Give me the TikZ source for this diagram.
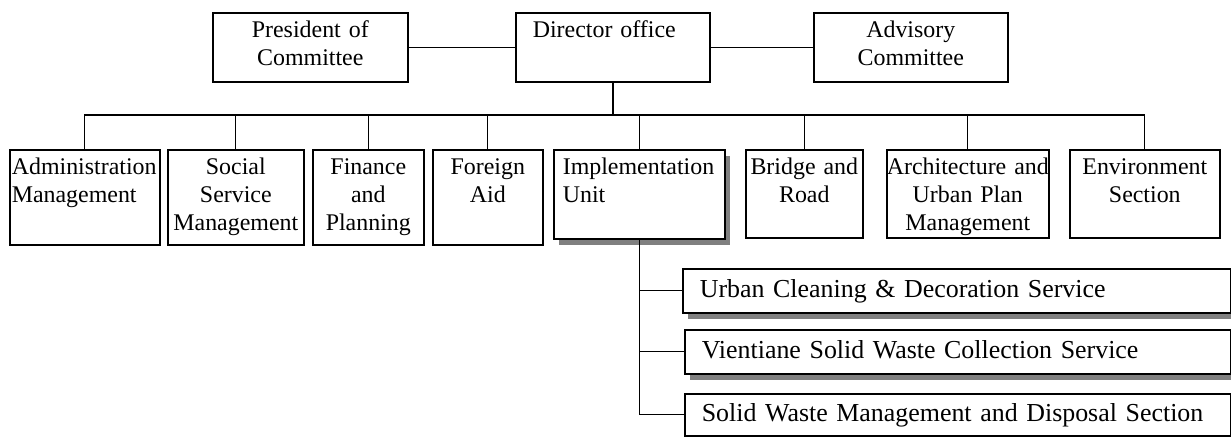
\documentclass[tikz,border=0pt]{standalone}
\usepackage{fontspec}
\setmainfont{Liberation Serif}
\usepackage{tikz}
\usetikzlibrary{shadows}

\begin{document}
\begin{tikzpicture}[
  x=0.5bp,y=-0.5bp,
  box/.style={draw=black, line width=0.8bp, anchor=north west, align=center, inner xsep=1bp, inner ysep=0pt, text height=12.5bp, font=\fontsize{12}{14}\selectfont},
  shaded/.style={drop shadow={shadow xshift=2.5bp, shadow yshift=-3bp, fill=black!50, opacity=1}, fill=white},
  service/.style={box, shaded, align=left, inner xsep=8.5bp, text height=9.5bp, text depth=2.5bp, font=\fontsize{13}{15}\selectfont},
  link/.style={line width=0.65bp, draw=black},
  trunk/.style={line width=1.3bp, draw=black}
]
\useasboundingbox (0,0) rectangle (1231,437);
\node[box, text width=95.5bp, text depth=22bp] (pres) at (212,12) {President of\\Committee};
\node[box, align=left, inner xsep=8.5bp, text width=80bp, text depth=22bp] (dir) at (515,12) {Director office};
\node[box, text width=95bp, text depth=22bp] (adv) at (813,12) {Advisory\\Committee};
\node[box, align=left, text width=73bp, text depth=35bp] (admin) at (9,149) {Administration\\Management};
\node[box, text width=66bp, text depth=35bp] (social) at (167,149) {Social\\Service\\Management};
\node[box, text width=53.5bp, text depth=35bp] (finance) at (312,149) {Finance\\and\\Planning};
\node[box, text width=53bp, text depth=35bp] (foreign) at (432,149) {Foreign\\Aid};
\node[box, shaded, align=left, inner xsep=4.5bp, text width=76.5bp, text depth=32bp] (impl) at (553,149) {Implementation\\Unit};
\node[box, text width=56.5bp, text depth=31.5bp] (bridge) at (745,149) {Bridge and\\Road};
\node[box, inner xsep=0pt, text width=81bp, text depth=31.5bp] (arch) at (886,149) {Architecture and\\Urban Plan\\Management};
\node[box, text width=73bp, text depth=31.5bp] (env) at (1069,149) {Environment\\Section};
\node[service, text width=257bp, minimum height=22bp] (urban) at (682,268) {Urban Cleaning \& Decoration Service};
\node[service, text width=256bp, minimum height=22bp] (collect) at (684,329) {Vientiane Solid Waste Collection Service};
\node[service, text width=256bp, minimum height=21bp] (disposal) at (684,393) {Solid Waste Management and Disposal Section};
\coordinate (bus) at (612,115);
\draw[link] (pres) -- (dir);
\draw[link] (dir) -- (adv);
\draw[trunk] (dir.south) -- (dir.south |- bus);
\draw[link] (admin.north) -- (admin.north |- bus) -- (env.north |- bus) -- (env.north);
\foreach \unit in {social,finance,foreign,impl,bridge,arch}
  \draw[link] (\unit.north) -- (\unit.north |- bus);
\draw[link] (impl.south) |- (disposal.west);
\draw[link] (impl.south |- urban.west) -- (urban.west);
\draw[link] (impl.south |- collect.west) -- (collect.west);
\end{tikzpicture}
\end{document}
